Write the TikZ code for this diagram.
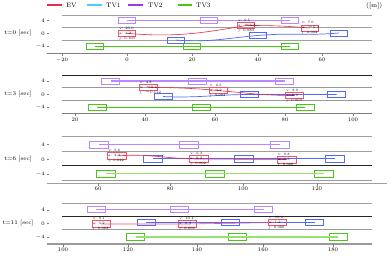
\documentclass[tikz,border=0pt]{standalone}
\usetikzlibrary{calc}
\definecolor{evred}{RGB}{240,40,70}
\definecolor{evbox}{RGB}{245,80,110}
\definecolor{tvcyan}{RGB}{70,205,255}
\definecolor{tvblue}{RGB}{80,105,250}
\definecolor{tvpurple}{RGB}{150,60,235}
\definecolor{tvpbox}{RGB}{185,135,255}
\definecolor{tvgreen}{RGB}{70,200,20}
\definecolor{tvgline}{RGB}{150,225,110}
\tikzset{
  vbox/.style={draw, line width=0.7pt, minimum width=#1, minimum height=6pt, inner sep=0pt},
  evb/.style={vbox=17pt, draw=evbox},
  t1b/.style={vbox=17pt, draw=tvblue},
  t2b/.style={vbox=17pt, draw=tvpbox},
  t3b/.style={vbox=17pt, draw=tvgreen},
  evl/.style={draw=evred, line width=0.6pt},
  t1l/.style={draw=tvblue, line width=0.7pt},
  t2l/.style={draw=tvpbox, line width=1.2pt},
  t3l/.style={draw=tvgreen, line width=0.9pt},
  lanethin/.style={draw=gray!75, line width=0.6pt},
  lanethick/.style={draw=gray!80, line width=1.4pt},
  laneblack/.style={draw=black!85, line width=0.8pt},
  lbl/.style={font=\fontsize{3.4}{5}\selectfont, align=left, inner sep=0pt, anchor=west},
  ticklbl/.style={font=\fontsize{5.5}{6}\selectfont, inner sep=0pt},
  ylbl/.style={font=\fontsize{5.5}{6}\selectfont, inner sep=0pt, anchor=east},
  tlbl/.style={font=\fontsize{5.8}{6}\selectfont, inner sep=0pt},
  leg/.style={font=\fontsize{6.5}{7}\selectfont, inner sep=0pt, anchor=west},
}
\begin{document}
\begin{tikzpicture}[x=1pt,y=-1pt]
\useasboundingbox (0,0) rectangle (391,257);
% legend
\draw[evred, line width=1.1pt] (47,5) -- (62,5);
\node[leg] (legev) at (66,5) {EV};
\draw[tvcyan, line width=1.1pt] (87,5) -- (102,5);
\node[leg] (legt1) at (106,5) {TV1};
\draw[tvpurple, line width=1.1pt] (128,5) -- (143,5);
\node[leg] (legt2) at (148,5) {TV2};
\draw[tvgreen, line width=1.1pt] (178,5) -- (192,5);
\node[leg] (legt3) at (196,5) {TV3};
\node[leg] (unit) at (366,6) {([m])};

% ================= panel 1 : t=0
\draw[lanethin] (62,15) -- (372,15);
\draw[lanethin] (62,27) -- (372,27);
\draw[lanethin] (62,40) -- (372,40);
\draw[lanethin, draw=gray] (47,53) -- (372,53);
\node[tlbl] (p1t) at (18,33.3) {t=0 [sec]};
\foreach \yy/\ll in {20.3/4, 33.3/0, 46.3/$-4$}{
  \node[ylbl] at (45,\yy) {\ll};
  \draw[gray, line width=0.4pt] (46.5,\yy) -- (48.5,\yy);
}
\foreach \xx/\ll in {62/$-20$, 127/0, 192/20, 258/40, 322/60}{
  \draw[gray, line width=0.4pt] (\xx,53) -- (\xx,56);
  \node[ticklbl] at (\xx,60) {\ll};
}
\node[t2b] (a21) at (127,20.3) {};
\node[t2b] (a22) at (208.5,20.3) {};
\node[t2b] (a23) at (290,20.3) {};
\node[t3b] (a31) at (94.5,46) {};
\node[t3b] (a32) at (192,46) {};
\node[t3b] (a33) at (290,46) {};
\node[t1b] (a11) at (175.5,40) {};
\node[t1b] (a12) at (257.5,35.5) {};
\node[t1b] (a13) at (339,33) {};
\node[evb] (ae1) at (127,33.3) {};
\node[evb] (ae2) at (246,25.5) {};
\node[evb] (ae3) at (309.5,28) {};
\draw[t2l] (a21.center) -- (a23.center);
\draw[t3l] (a31.center) -- (a33.center);
\draw[t1l] (a11.center) to[out=-5,in=185] (a12.center) to[out=5,in=185] (a13.center);
\draw[evl] (ae1.center) to[out=-5,in=190] (ae2.center) to[out=0,in=175] (ae3.center);
\node[lbl] at ($(ae1.west)+(1,0)$) {v: 20.0\\a: 4.2\\j: 0.100};
\node[lbl] at ($(ae2.west)+(1,0)$) {v: 9.5\\a: $-$6.8\\j: 0.080};
\node[lbl] at ($(ae3.west)+(1,0)$) {v: 7.6\\a: $-$0.4\\j: 0.002};

% ================= panel 2 : t=3
\draw[laneblack] (62,75.7) -- (372,75.7);
\draw[lanethick] (62,87.7) -- (372,87.7);
\draw[lanethick] (62,100.7) -- (372,100.7);
\draw[lanethin, draw=gray] (62,113.3) -- (372,113.3);
\node[tlbl] (p2t) at (18,94.3) {t=3 [sec]};
\foreach \yy/\ll in {81/4, 94.3/0, 107.3/$-4$}{
  \node[ylbl] at (45,\yy) {\ll};
  \draw[gray, line width=0.4pt] (46.5,\yy) -- (48.5,\yy);
}
\foreach \xx/\ll in {75/20, 145/40, 215/60, 285/80, 353/100}{
  \draw[gray, line width=0.4pt] (\xx,113.3) -- (\xx,116.3);
  \node[ticklbl] at (\xx,120) {\ll};
}
\node[t2b, minimum width=18pt] (b21) at (110.5,81) {};
\node[t2b, minimum width=18pt] (b22) at (197,81) {};
\node[t2b, minimum width=18pt] (b23) at (284.5,81) {};
\node[t3b, minimum width=18pt] (b31) at (97,107) {};
\node[t3b, minimum width=18pt] (b32) at (201,107) {};
\node[t3b, minimum width=18pt] (b33) at (305,107) {};
\node[t1b, minimum width=18pt] (b11) at (163,96.5) {};
\node[t1b, minimum width=18pt] (b12) at (249.5,94.5) {};
\node[t1b, minimum width=18pt] (b13) at (336.5,94.5) {};
\node[evb, minimum width=18pt, minimum height=5.5pt] (be1) at (148,87.5) {};
\node[evb, minimum width=18pt, minimum height=5.5pt] (be2) at (218,90.5) {};
\node[evb, minimum width=18pt, minimum height=5.5pt] (be3) at (294.5,95.5) {};
\draw[t2l] (b21.center) -- (b23.center);
\draw[t3l] (b31.center) -- (b33.center);
\draw[t1l] (b11.center) to[out=-3,in=180] (b12.center) -- (b13.center);
\draw[evl] (be1.center) to[out=0,in=175] (be2.center) to[out=-5,in=180] (be3.center);
\node[lbl] at ($(be1.west)+(1,0)$) {v: 4.8\\a: $-$0.1\\j: $-$0.112};
\node[lbl] at ($(be2.west)+(1,0)$) {v: 6.5\\a: 0.2\\j: 0.004};
\node[lbl] at ($(be3.west)+(1,0)$) {v: 8.9\\a: 0.9\\j: 0.003};

% ================= panel 3 : t=6
\draw[lanethin] (62,136) -- (372,136);
\draw[lanethin] (62,151.7) -- (372,151.7);
\draw[laneblack] (62,165.7) -- (372,165.7);
\draw[lanethick] (62,180.7) -- (372,180.7);
\draw[lanethin] (47,183.3) -- (387,183.3);
\node[tlbl] (p3t) at (18,159.3) {t=6 [sec]};
\foreach \yy/\ll in {144.3/4, 159.3/0, 174/$-4$}{
  \node[ylbl] at (45,\yy) {\ll};
  \draw[gray, line width=0.4pt] (46.5,\yy) -- (48.5,\yy);
}
\foreach \xx/\ll in {98/60, 170/80, 243/100, 317/120}{
  \draw[gray, line width=0.4pt] (\xx,183.3) -- (\xx,185.8);
  \node[ticklbl] at (\xx,189) {\ll};
}
\node[t2b, minimum width=19pt, minimum height=7pt] (c21) at (98.5,144.5) {};
\node[t2b, minimum width=19pt, minimum height=7pt] (c22) at (189,144.5) {};
\node[t2b, minimum width=19pt, minimum height=7pt] (c23) at (280,144.5) {};
\node[t3b, minimum width=19pt, minimum height=7pt] (c31) at (105.5,173.5) {};
\node[t3b, minimum width=19pt, minimum height=7pt] (c32) at (215,173.5) {};
\node[t3b, minimum width=19pt, minimum height=7pt] (c33) at (323.5,173.5) {};
\node[t1b, minimum width=19pt, minimum height=7pt] (c11) at (152.5,158.5) {};
\node[t1b, minimum width=19pt, minimum height=7pt] (c12) at (243.5,158.5) {};
\node[t1b, minimum width=19pt, minimum height=7pt] (c13) at (334.5,158.5) {};
\node[evb, minimum width=19pt, minimum height=7pt] (ce1) at (117,156) {};
\node[evb, minimum width=19pt, minimum height=7pt] (ce2) at (199,159) {};
\node[evb, minimum width=19pt, minimum height=7pt] (ce3) at (286.5,159.5) {};
\draw[t2l] (c21.center) -- (c23.center);
\draw[t3l, draw=tvgline] (c31.center) -- (c33.center);
\draw[t1l] (c11.center) -- (c13.center);
\draw[evl] (ce1.center) to[out=5,in=180] (ce2.center) -- (ce3.center);
\node[lbl] at ($(ce1.west)+(1,0)$) {v: 5.6\\a: 3.3\\j: 0.022};
\node[lbl] at ($(ce2.west)+(1,0)$) {v: 6.3\\a: 0.2\\j: 0.002};
\node[lbl] at ($(ce3.west)+(1,0)$) {v: 9.8\\a: 0.3\\j: 0.000};

% ================= panel 4 : t=11
\draw[lanethin] (62,203.3) -- (372,203.3);
\draw[laneblack] (62,216) -- (372,216);
\draw[lanethick] (62,229.3) -- (372,229.3);
\draw[lanethick] (47,244) -- (372,244);
\node[tlbl] (p4t) at (18,223.3) {t=11 [sec]};
\foreach \yy/\ll in {210/4, 223.3/0, 237.3/$-4$}{
  \node[ylbl] at (45,\yy) {\ll};
  \draw[gray, line width=0.4pt] (46.5,\yy) -- (48.5,\yy);
}
\foreach \xx/\ll in {63/100, 128/120, 197/140, 263/160, 333/180}{
  \draw[gray, line width=0.4pt] (\xx,244) -- (\xx,247);
  \node[ticklbl] at (\xx,250) {\ll};
}
\node[t2b, minimum width=18pt, minimum height=6.5pt] (d21) at (96,209.5) {};
\node[t2b, minimum width=18pt, minimum height=6.5pt] (d22) at (179.5,209.5) {};
\node[t2b, minimum width=18pt, minimum height=6.5pt] (d23) at (263.5,209.5) {};
\node[t3b, minimum width=18pt, minimum height=6.5pt] (d31) at (135.5,237) {};
\node[t3b, minimum width=18pt, minimum height=6.5pt] (d32) at (237,237) {};
\node[t3b, minimum width=18pt, minimum height=6.5pt] (d33) at (338,237) {};
\node[t1b, minimum width=18pt, minimum height=6.5pt] (d11) at (146,222.5) {};
\node[t1b, minimum width=18pt, minimum height=6.5pt] (d12) at (230.5,222.5) {};
\node[t1b, minimum width=18pt, minimum height=6.5pt] (d13) at (314.5,222.5) {};
\node[evb, minimum width=18pt, minimum height=6.5pt] (de1) at (101,224) {};
\node[evb, minimum width=18pt, minimum height=6.5pt] (de2) at (187.5,224) {};
\node[evb, minimum width=18pt, minimum height=6.5pt] (de3) at (277,222.5) {};
\draw[t2l] (d21.center) -- (d23.center);
\draw[t3l, draw=tvgline, line width=1.4pt] (d31.center) -- (d33.center);
\draw[t1l] (d11.center) -- (d13.center);
\draw[evl, draw=evbox] (de1.center) -- (de2.center) -- (de3.center);
\node[lbl] at ($(de1.west)+(1,0)$) {v: 9.1\\a: 3.2\\j: 0.003};
\node[lbl] at ($(de2.west)+(1,0)$) {v: 10.4\\a: 0.3\\j: 0.000};
\node[lbl] at ($(de3.west)+(1,0)$) {v: 10.6\\a: 1.2\\j: 0.000};
\end{tikzpicture}
\end{document}
